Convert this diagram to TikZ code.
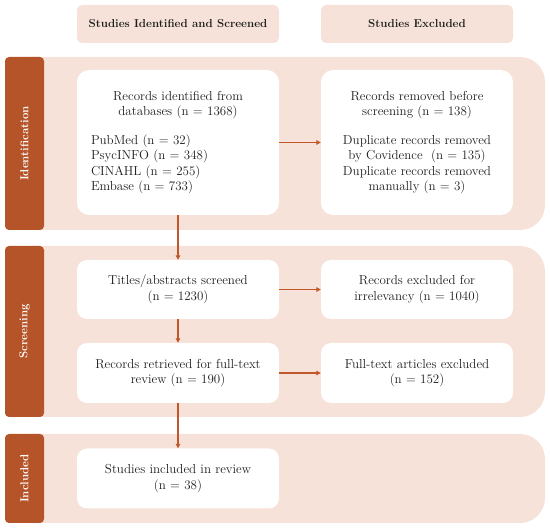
\documentclass[tikz,border=0pt]{standalone}
\usetikzlibrary{arrows.meta}
\definecolor{tabc}{RGB}{180,84,40}
\definecolor{bandc}{RGB}{246,226,216}
\definecolor{arrc}{RGB}{192,88,44}
\definecolor{txtc}{RGB}{30,30,30}
\begin{document}
\begin{tikzpicture}[x=1pt,y=-1pt,
  box/.style={fill=white, rounded corners=12pt, inner sep=0pt, text=txtc,
    font=\fontsize{13}{15.5}\selectfont, align=center},
  hdr/.style={fill=bandc, rounded corners=5pt, inner sep=0pt, minimum height=38pt, text=txtc,
    font=\bfseries\fontsize{11.5}{13}\selectfont},
  tabbox/.style={fill=tabc, rounded corners=4pt},
  bandbox/.style={fill=bandc, rounded corners=25pt},
  tablabel/.style={rotate=90, text=white, font=\bfseries\fontsize{11.5}{13}\selectfont},
  arr/.style={draw=arrc, line width=1.1pt, -{Triangle[length=4.5pt,width=4.5pt]}}]
\useasboundingbox (0,0) rectangle (550,529);
% headers
\node[hdr, minimum width=202pt] (h1) at (178,24) {Studies Identified and Screened};
\node[hdr, minimum width=192pt] (h2) at (417,24) {Studies Excluded};
% bands
\fill[bandbox] (5,57) rectangle (545,230);
\fill[bandbox] (5,246) rectangle (545,417);
\fill[bandbox] (5,434) rectangle (545,523);
% tabs
\fill[tabbox] (5,57) rectangle (44,230);
\fill[tabbox] (5,246) rectangle (44,417);
\fill[tabbox] (5,434) rectangle (44,523);
\node[tablabel] (t1) at (24.5,143.5) {Identification};
\node[tablabel] (t2) at (24.5,331.5) {Screening};
\node[tablabel] (t3) at (24.5,478.5) {Included};
% boxes
\node[box, minimum width=202pt, minimum height=145pt, text width=174pt, align=left] (rid) at (178,142.5)
  {{\centering Records identified from\\databases (n = 1368)\par}\vspace{13pt}%
   {\raggedright PubMed (n = 32)\\PsycINFO (n = 348)\\CINAHL (n = 255)\\Embase (n = 733)\par}};
\node[box, minimum width=192pt, minimum height=145pt] (rrm) at (417,142.5)
  {Records removed before\\screening (n = 138)\\[13pt]Duplicate records removed\\by Covidence~~(n = 135)\\Duplicate records removed\\manually (n = 3)};
\node[box, rounded corners=10pt, minimum width=202pt, minimum height=59pt] (tas) at (178,289.5)
  {Titles/abstracts screened\\(n = 1230)};
\node[box, rounded corners=10pt, minimum width=192pt, minimum height=59pt] (rex) at (417,289.5)
  {Records excluded for\\irrelevancy (n = 1040)};
\node[box, rounded corners=10pt, minimum width=202pt, minimum height=60pt] (rfr) at (178,373)
  {Records retrieved for full-text\\review (n = 190)};
\node[box, rounded corners=10pt, minimum width=192pt, minimum height=60pt] (fte) at (417,373)
  {Full-text articles excluded\\(n = 152)};
\node[box, rounded corners=10pt, minimum width=202pt, minimum height=60pt] (sir) at (178,478.5)
  {Studies included in review\\(n = 38)};
% arrows
\draw[arr] (rid.east) -- (rrm.west);
\draw[arr] (tas.east) -- (rex.west);
\draw[arr] (rfr.east) -- (fte.west);
\draw[arr] (rid.south) -- (tas.north);
\draw[arr] (tas.south) -- (rfr.north);
\draw[arr] (rfr.south) -- (sir.north);
\end{tikzpicture}
\end{document}
